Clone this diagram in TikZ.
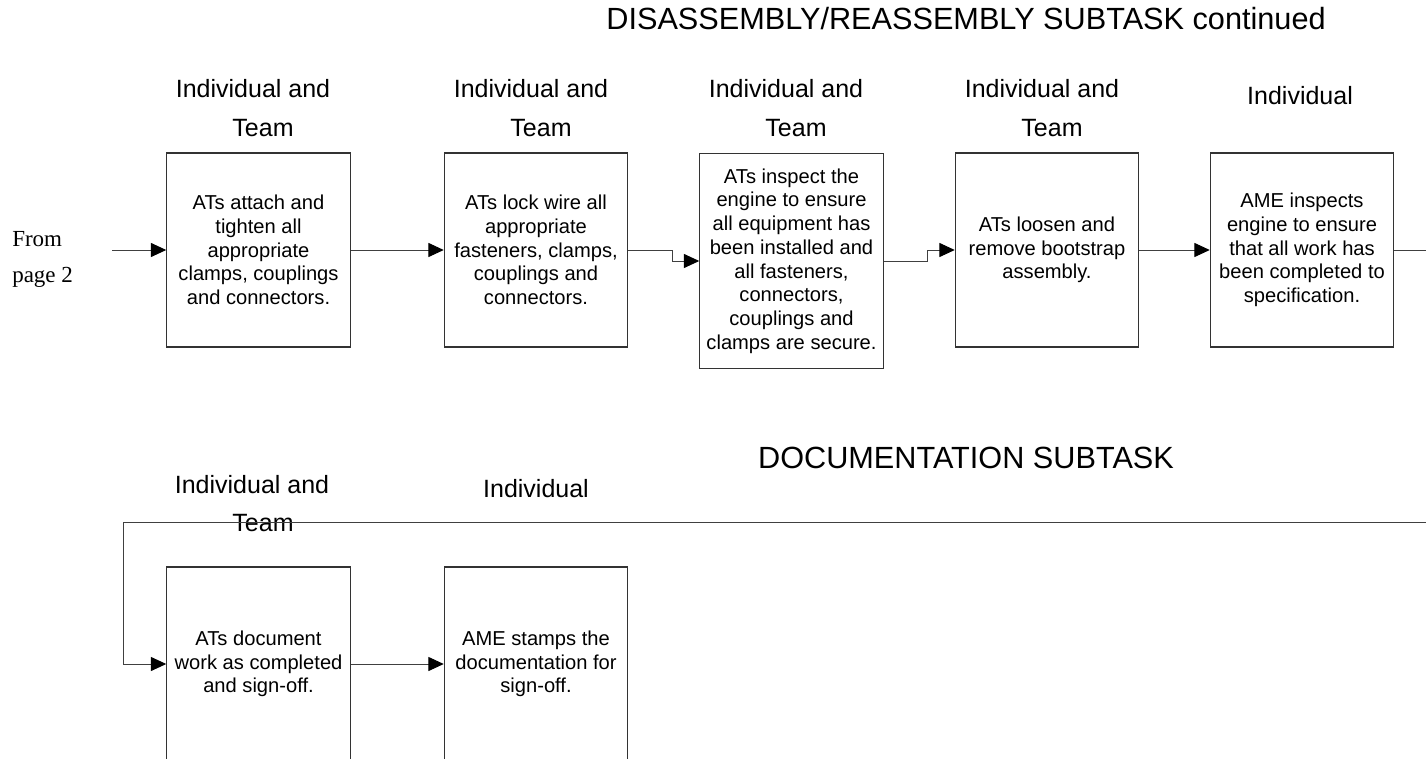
\documentclass[tikz,border=0pt]{standalone}
\usepackage{fontspec}
\setmainfont{Liberation Sans}
\newfontfamily\timesfont{Liberation Serif}
\usetikzlibrary{arrows.meta,calc}

\begin{document}
\begin{tikzpicture}[x=0.75pt,y=-0.75pt,
  stepbox/.style={draw=black!80, line width=0.9pt, minimum width=137.5pt,
    minimum height=145.5pt, inner sep=0pt, align=center,
    font=\fontsize{15.1}{17.8}\selectfont},
  tallbox/.style={stepbox, minimum height=161.5pt},
  lbl/.style={inner sep=0pt, anchor=base, font=\fontsize{18.75}{22}\selectfont},
  heading/.style={inner sep=0pt, anchor=base, font=\fontsize{23}{27}\selectfont},
  pagenote/.style={inner sep=0pt, anchor=base west, font=\timesfont\fontsize{17.25}{20}\selectfont},
  conn/.style={draw=black!75, line width=0.75pt},
  arr/.style={conn, -{Triangle[length=11.5pt,width=10.5pt,color=black]}}]

\useasboundingbox (0,0) rectangle (1426,759);

% headings
\node[heading] (title) at (966,30) {DISASSEMBLY/REASSEMBLY SUBTASK continued};
\node[heading] (doctitle) at (966,468) {DOCUMENTATION SUBTASK};

% disassembly/reassembly steps
\node[stepbox] (b1) at (258.5,250) {ATs attach and\\tighten all\\appropriate\\clamps, couplings\\and connectors.};
\node[stepbox] (b2) at (536,250) {ATs lock wire all\\appropriate\\fasteners, clamps,\\couplings and\\connectors.};
\node[tallbox] (b3) at (791.5,261) {ATs inspect the\\engine to ensure\\all equipment has\\been installed and\\all fasteners,\\connectors,\\couplings and\\clamps are secure.};
\node[stepbox] (b4) at (1047,250) {ATs loosen and\\remove bootstrap\\assembly.};
\node[stepbox] (b5) at (1302,250) {AME inspects\\engine to ensure\\that all work has\\been completed to\\specification.};

% who performs each step
\node[lbl] (l1a) at (253,98) {Individual and};
\node[lbl] (l1b) at (263,137) {Team};
\node[lbl] (l2a) at (531,98) {Individual and};
\node[lbl] (l2b) at (541,137) {Team};
\node[lbl] (l3a) at (786,98) {Individual and};
\node[lbl] (l3b) at (796,137) {Team};
\node[lbl] (l4a) at (1042,98) {Individual and};
\node[lbl] (l4b) at (1052,137) {Team};
\node[lbl] (l5) at (1300,105) {Individual};

% off-page entry
\node[pagenote] (from1) at (12,247) {From};
\node[pagenote] (from2) at (12,282) {page 2};
\coordinate (fromtip) at (112,250);
\draw[arr] (fromtip) -- (b1.west);

% flow between steps
\draw[arr] (b1.east) -- (b2.west);
\draw[arr] (b2.east) -- ++(44,0) |- (b3.west);
\draw[arr] (b3.east) -- ++(44,0) |- (b4.west);
\draw[arr] (b4.east) -- (b5.west);
\coordinate (exitR) at (1426,250);
\draw[conn] (b5.east) -- (exitR);

% documentation steps
\node[stepbox] (d1) at (258.5,664) {ATs document\\work as completed\\and sign-off.};
\node[stepbox] (d2) at (536,664) {AME stamps the\\documentation for\\sign-off.};
\node[lbl] (m1a) at (252,493) {Individual and};
\node[lbl] (m1b) at (263,531) {Team};
\node[lbl] (m2) at (536,497.5) {Individual};

\coordinate (feed) at (1426,522);
\draw[arr] (feed) -- ++(-1303,0) |- (d1.west);
\draw[arr] (d1.east) -- (d2.west);
\end{tikzpicture}
\end{document}
